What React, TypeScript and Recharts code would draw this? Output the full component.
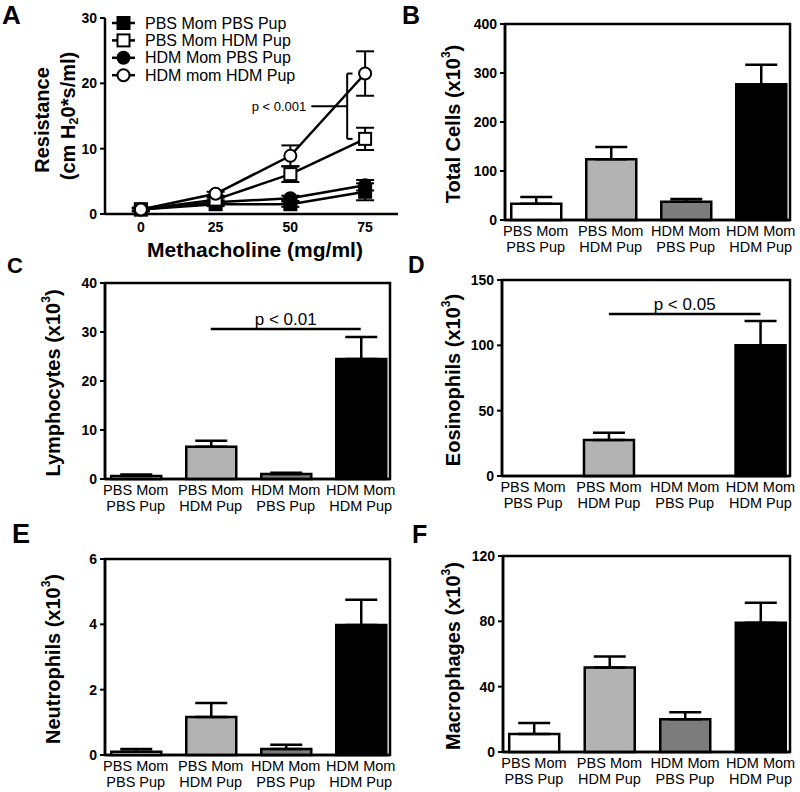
import React from "react";
import {
  BarChart,
  Bar,
  Cell,
  LineChart,
  Line,
  XAxis,
  YAxis,
  ErrorBar,
  ReferenceArea,
  ReferenceLine,
} from "recharts";

const FONT = "'Liberation Sans', Arial, Helvetica, sans-serif";

// panel A: airway resistance vs methacholine dose
const doses = [0, 25, 50, 75];
const doseTicks = [0, 25, 50, 75];
const resistanceTicks = [0, 10, 20, 30];
const seriesNames = ["PBS Mom PBS Pup", "PBS Mom HDM Pup", "HDM Mom PBS Pup", "HDM mom HDM Pup"];
const pbsPbs = [0.7, 1.5, 1.5, 3.4];
const pbsPbsErr = [0.3, 0.3, 0.4, 1.3];
const pbsHdm = [0.7, 2.2, 6.1, 11.5];
const pbsHdmErr = [0.2, 0.3, 1.2, 1.7];
const hdmPbs = [0.7, 1.8, 2.4, 4.4];
const hdmPbsErr = [0.2, 0.3, 0.4, 0.8];
const hdmHdm = [0.7, 3.1, 8.9, 21.5];
const hdmHdmErr = [0.2, 0.3, 1.6, 3.4];

// panels B-F: BAL cell counts (x10^3)
const groupMom = ["PBS Mom", "PBS Mom", "HDM Mom", "HDM Mom"];
const groupPup = ["PBS Pup", "HDM Pup", "PBS Pup", "HDM Pup"];
const totalCells = [33, 124, 37, 277];
const totalCellsErr = [14, 25, 6, 40];
const totalTicks = [0, 100, 200, 300, 400];
const lymphocytes = [0.6, 6.6, 1.0, 24.5];
const lymphocytesErr = [0.3, 1.2, 0.3, 4.5];
const lymphTicks = [0, 10, 20, 30, 40];
const eosinophils = [0, 27.6, 0, 100];
const eosinophilsErr = [0, 5.5, 0, 18.6];
const eosTicks = [0, 50, 100, 150];
const neutrophils = [0.1, 1.16, 0.18, 3.98];
const neutrophilsErr = [0.08, 0.43, 0.13, 0.77];
const neutTicks = [0, 2, 4, 6];
const macrophages = [11, 51.8, 20.1, 79.2];
const macrophagesErr = [6.7, 6.7, 4.3, 12.2];
const macTicks = [0, 40, 80, 120];

const barColors = ["#ffffff", "#b3b3b3", "#7c7c7c", "#000000"];
const X_DOMAIN: [number, number] = [0.59, 4.39];
const PLOT_H = 196;

const resistance = doses.map((d, i) => ({
  dose: d,
  pbsPbs: pbsPbs[i],
  pbsPbsErr: pbsPbsErr[i],
  pbsHdm: pbsHdm[i],
  pbsHdmErr: pbsHdmErr[i],
  hdmPbs: hdmPbs[i],
  hdmPbsErr: hdmPbsErr[i],
  hdmHdm: hdmHdm[i],
  hdmHdmErr: hdmHdmErr[i],
}));

const lineSeries = [
  { key: "pbsPbs", name: seriesNames[0], marker: "filledSquare" },
  { key: "hdmPbs", name: seriesNames[2], marker: "filledCircle" },
  { key: "pbsHdm", name: seriesNames[1], marker: "openSquare" },
  { key: "hdmHdm", name: seriesNames[3], marker: "openCircle" },
];
const legendOrder = ["filledSquare", "openSquare", "filledCircle", "openCircle"];

function Marker({ cx, cy, kind }: { cx: number; cy: number; kind: string }) {
  if (cx == null || cy == null) return null;
  const fill = kind.startsWith("filled") ? "#000" : "#fff";
  if (kind.endsWith("Square")) {
    return <rect x={cx - 6} y={cy - 6} width={12} height={12} fill={fill} stroke="#000" strokeWidth={2} />;
  }
  return <circle cx={cx} cy={cy} r={6} fill={fill} stroke="#000" strokeWidth={2} />;
}

function Letter({ x, y, children, size = 26 }: any) {
  return (
    <text x={x} y={y} fontFamily={FONT} fontWeight={700} fontSize={size} fill="#000">
      {children}
    </text>
  );
}

function YTitle({ x, y, text }: { x: number; y: number; text: string }) {
  return (
    <text
      x={x}
      y={y}
      transform={`rotate(-90, ${x}, ${y})`}
      textAnchor="middle"
      dominantBaseline="central"
      fontFamily={FONT}
      fontWeight={700}
      fontSize={20}
      fill="#000"
    >
      {text} (x10
      <tspan dy={-7} fontSize={12}>3</tspan>
      <tspan dy={7}>)</tspan>
    </text>
  );
}

function GroupTick(props: any) {
  const { x, y, payload } = props;
  const i = Math.round(payload.value) - 1;
  return (
    <text x={x} y={y} textAnchor="middle" fill="#000" fontSize={14.5} fontFamily={FONT}>
      <tspan x={x} dy={8}>{groupMom[i]}</tspan>
      <tspan x={x} dy={16}>{groupPup[i]}</tspan>
    </text>
  );
}

const axisLine = { stroke: "#000", strokeWidth: 2.5 };
const yTick = { fill: "#000", fontSize: 14, fontWeight: 700, fontFamily: FONT };
const overlay: React.CSSProperties = { position: "absolute", left: 0, top: 0, pointerEvents: "none", overflow: "visible" };

function BarPanel(props: any) {
  const { left, top, plotLeft, plotTop, values, errors, yMax, ticks, title, letter, letterX, letterY, letterSize, sig, sigText } = props;
  const data = values.map((v: number, i: number) => ({ x: i + 1, value: v, err: [0, errors[i]] }));
  const xAxisH = 30;
  return (
    <div style={{ position: "absolute", left, top, width: 400, height: 264 }}>
      <BarChart
        width={400}
        height={264}
        data={data}
        margin={{ top: plotTop, right: 10, bottom: 264 - plotTop - PLOT_H - xAxisH, left: plotLeft - 40 }}
      >
        <XAxis
          type="number"
          dataKey="x"
          domain={X_DOMAIN}
          allowDataOverflow
          ticks={[1, 2, 3, 4]}
          interval={0}
          height={xAxisH}
          axisLine={axisLine}
          tickLine={false}
          tick={<GroupTick />}
        />
        <YAxis
          type="number"
          domain={[0, yMax]}
          ticks={ticks}
          interval={0}
          width={40}
          axisLine={axisLine}
          tickLine={{ stroke: "#000", strokeWidth: 2 }}
          tickSize={5}
          tickMargin={3}
          tick={yTick}
        />
        <ReferenceArea x1={X_DOMAIN[0]} x2={X_DOMAIN[1]} y1={0} y2={yMax} fill="none" stroke="#000" strokeWidth={2.5} ifOverflow="visible" />
        <Bar dataKey="value" barSize={50} stroke="#000" strokeWidth={2.5} isAnimationActive={false}>
          {data.map((_: any, i: number) => (
            <Cell key={i} fill={barColors[i]} />
          ))}
          <ErrorBar dataKey="err" width={16} stroke="#000" strokeWidth={2.5} direction="y" />
        </Bar>
        {sig != null && (
          <ReferenceLine
            segment={[{ x: 2, y: sig }, { x: 4, y: sig }]}
            stroke="#000"
            strokeWidth={2.5}
            ifOverflow="visible"
            label={{ value: sigText, position: "top", offset: 4, fill: "#000", fontSize: 17, fontFamily: FONT }}
          />
        )}
      </BarChart>
      <svg width={400} height={264} style={overlay}>
        <Letter x={letterX} y={letterY} size={letterSize}>{letter}</Letter>
        <YTitle x={53} y={plotTop + PLOT_H / 2 + 2} text={title} />
      </svg>
    </div>
  );
}

function ResistancePanel() {
  const top = hdmHdm[3];
  const bottom = pbsHdm[3];
  const mid = (top + bottom) / 2;
  return (
    <div style={{ position: "absolute", left: 0, top: 0, width: 400, height: 264 }}>
      <LineChart width={400} height={264} data={resistance} margin={{ top: 18, right: 2, bottom: 20, left: 65 }}>
        <XAxis
          type="number"
          dataKey="dose"
          domain={[-12, 86]}
          allowDataOverflow
          ticks={doseTicks}
          interval={0}
          height={30}
          axisLine={axisLine}
          tickLine={false}
          tickSize={5}
          tickMargin={3}
          tick={yTick}
        />
        <YAxis
          type="number"
          domain={[0, 30]}
          ticks={resistanceTicks}
          interval={0}
          width={40}
          axisLine={axisLine}
          tickLine={{ stroke: "#000", strokeWidth: 2 }}
          tickSize={5}
          tickMargin={3}
          tick={yTick}
        />
        {lineSeries.map((s) => (
          <Line
            key={s.key}
            dataKey={s.key}
            name={s.name}
            stroke="#000"
            strokeWidth={2.5}
            isAnimationActive={false}
            dot={(p: any) => <Marker key={`${s.key}-${p.index}`} cx={p.cx} cy={p.cy} kind={s.marker} />}
            activeDot={false}
          >
            <ErrorBar dataKey={`${s.key}Err`} width={9} stroke="#000" strokeWidth={2} direction="y" />
          </Line>
        ))}
        <ReferenceLine segment={[{ x: 69, y: top }, { x: 69, y: bottom }]} stroke="#000" strokeWidth={2} ifOverflow="visible" />
        <ReferenceLine segment={[{ x: 69, y: top }, { x: 70.8, y: top }]} stroke="#000" strokeWidth={2} ifOverflow="visible" />
        <ReferenceLine segment={[{ x: 69, y: bottom }, { x: 70.8, y: bottom }]} stroke="#000" strokeWidth={2} ifOverflow="visible" />
        <ReferenceLine
          segment={[{ x: 57, y: mid }, { x: 69, y: mid }]}
          stroke="#000"
          strokeWidth={2}
          ifOverflow="visible"
          label={{ value: "p < 0.001", position: "left", offset: 5, fill: "#000", fontSize: 13, fontFamily: FONT }}
        />
      </LineChart>
      <svg width={400} height={264} style={overlay}>
        <Letter x={2} y={24} size={26}>A</Letter>
        <text
          x={42}
          y={120}
          transform="rotate(-90, 42, 120)"
          textAnchor="middle"
          dominantBaseline="central"
          fontFamily={FONT}
          fontWeight={700}
          fontSize={20}
        >
          Resistance
        </text>
        <text
          x={68}
          y={116}
          transform="rotate(-90, 68, 116)"
          textAnchor="middle"
          dominantBaseline="central"
          fontFamily={FONT}
          fontWeight={700}
          fontSize={20}
        >
          (cm H<tspan dy={5} fontSize={13}>2</tspan>
          <tspan dy={-5}>0*s/ml)</tspan>
        </text>
        <text x={255} y={257} textAnchor="middle" fontFamily={FONT} fontWeight={700} fontSize={21}>
          Methacholine (mg/ml)
        </text>
        {legendOrder.map((kind, i) => {
          const s = lineSeries.find((l) => l.marker === kind)!;
          const cy = 23 + i * 17.4;
          return (
            <g key={kind}>
              <line x1={112} x2={135} y1={cy} y2={cy} stroke="#000" strokeWidth={2.5} />
              <Marker cx={123.5} cy={cy} kind={kind} />
              <text x={145} y={cy} dominantBaseline="central" fontFamily={FONT} fontSize={16} fill="#000">
                {s.name}
              </text>
            </g>
          );
        })}
      </svg>
    </div>
  );
}

export default function App() {
  return (
    <div style={{ position: "absolute", left: 0, top: 0, width: 800, height: 792, background: "#fff", overflow: "hidden" }}>
      <ResistancePanel />
      <BarPanel
        left={400} top={0} plotLeft={105} plotTop={24}
        values={totalCells} errors={totalCellsErr} yMax={400} ticks={totalTicks}
        title="Total Cells" letter="B" letterX={2} letterY={24} letterSize={25}
      />
      <BarPanel
        left={0} top={264} plotLeft={105} plotTop={19}
        values={lymphocytes} errors={lymphocytesErr} yMax={40} ticks={lymphTicks}
        title="Lymphocytes" letter="C" letterX={7} letterY={9} letterSize={22}
        sig={30.6} sigText="p < 0.01"
      />
      <BarPanel
        left={400} top={264} plotLeft={102} plotTop={16}
        values={eosinophils} errors={eosinophilsErr} yMax={150} ticks={eosTicks}
        title="Eosinophils" letter="D" letterX={8} letterY={9} letterSize={23}
        sig={124} sigText="p < 0.05"
      />
      <BarPanel
        left={0} top={528} plotLeft={105} plotTop={31}
        values={neutrophils} errors={neutrophilsErr} yMax={6} ticks={neutTicks}
        title="Neutrophils" letter="E" letterX={12} letterY={15} letterSize={27}
      />
      <BarPanel
        left={400} top={528} plotLeft={103} plotTop={28}
        values={macrophages} errors={macrophagesErr} yMax={120} ticks={macTicks}
        title="Macrophages" letter="F" letterX={12} letterY={15} letterSize={25}
      />
    </div>
  );
}
